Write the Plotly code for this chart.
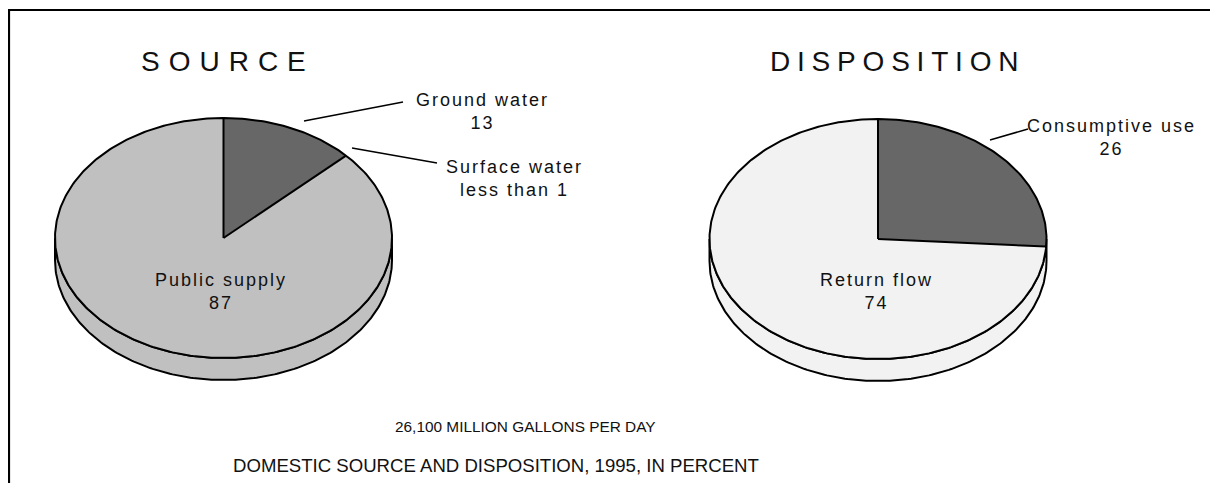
import numpy as np
import plotly.graph_objects as go

# ---------------- data ----------------
source_labels = ["Ground water", "Surface water", "Public supply"]
source_values = [13, 0.3, 87]
source_value_text = ["13", "less than 1", "87"]
disp_labels = ["Consumptive use", "Return flow"]
disp_values = [26, 74]
disp_value_text = ["26", "74"]
total_text = "26,100 MILLION GALLONS PER DAY"
chart_title = "DOMESTIC SOURCE AND DISPOSITION, 1995, IN PERCENT"

# ---------------- style ----------------
W, H = 1218, 483
OFF = 8  # page body margin of the browser
FONT = "Liberation Sans, Arial, sans-serif"
source_colors = ["#676767", "#C0C0C0", "#C0C0C0"]
disp_colors = ["#676767", "#F2F2F2"]
RX, RY, DEPTH = 168.5, 120, 22
SRC_C = (223.5, 238)
DSP_C = (878, 239)

fig = go.Figure()


def pt(c, t):
    return c[0] + RX * np.sin(t), c[1] - RY * np.cos(t)


def add_pie(center, values, colors):
    vals = np.asarray(values, dtype=float)
    frac = vals / vals.sum()
    edges = np.concatenate([[0], np.cumsum(frac)]) * 2 * np.pi
    # side wall colour = colour of slice at the front (6 o'clock)
    front = int(np.searchsorted(edges, np.pi) - 1)
    t = np.linspace(np.pi / 2, 3 * np.pi / 2, 200)
    tx, ty = pt(center, t)
    bx, by = tx[::-1], ty[::-1] + DEPTH
    sx = np.concatenate([tx, bx, [tx[0]]])
    sy = np.concatenate([ty, by, [ty[0]]])
    fig.add_trace(go.Scatter(x=sx, y=sy, mode="lines", fill="toself",
                             fillcolor=colors[front],
                             line=dict(color="black", width=2),
                             hoverinfo="skip", showlegend=False))
    # slices
    for i in range(len(vals)):
        tt = np.linspace(edges[i], edges[i + 1], max(3, int(400 * frac[i])))
        ax, ay = pt(center, tt)
        xs = np.concatenate([[center[0]], ax, [center[0]]])
        ys = np.concatenate([[center[1]], ay, [center[1]]])
        fig.add_trace(go.Scatter(x=xs, y=ys, mode="lines", fill="toself",
                                 fillcolor=colors[i],
                                 line=dict(color=colors[i], width=0.5),
                                 hoverinfo="skip", showlegend=False))
    # outline of top ellipse
    ta = np.linspace(0, 2 * np.pi, 400)
    ox, oy = pt(center, ta)
    fig.add_trace(go.Scatter(x=ox, y=oy, mode="lines",
                             line=dict(color="black", width=2),
                             hoverinfo="skip", showlegend=False))
    # radial boundaries between differently coloured slices
    n = len(vals)
    rx_, ry_ = [], []
    for i in range(n):
        prev = (i - 1) % n
        if colors[i] != colors[prev]:
            ex, ey = pt(center, edges[i])
            rx_ += [center[0], ex, None]
            ry_ += [center[1], ey, None]
    fig.add_trace(go.Scatter(x=rx_, y=ry_, mode="lines",
                             line=dict(color="black", width=2),
                             hoverinfo="skip", showlegend=False))


add_pie(SRC_C, source_values, source_colors)
add_pie(DSP_C, disp_values, disp_colors)


def ann(x, y, text, size=18, spacing=2.0):
    fig.add_annotation(x=x, y=y, xref="x", yref="y", showarrow=False,
                       text=f'<span style="letter-spacing:{spacing}px">{text}</span>',
                       font=dict(family=FONT, size=size, color="#111111"),
                       xanchor="center", yanchor="middle", align="center")


# titles
ann(227.5, 61, "SOURCE", size=28, spacing=9)
ann(897.5, 61, "DISPOSITION", size=28, spacing=6.8)

# slice labels
ann(482, 111, f"{source_labels[0]}<br>{source_value_text[0]}")
ann(514, 178, f"{source_labels[1]}<br>{source_value_text[1]}")
ann(221, 291, f"{source_labels[2]}<br>{source_value_text[2]}")
ann(1111, 137, f"{disp_labels[0]}<br>{disp_value_text[0]}")
ann(876, 291, f"{disp_labels[1]}<br>{disp_value_text[1]}")

# bottom texts
ann(525, 426, total_text, size=15.4, spacing=0)
ann(496, 465, chart_title, size=18.6, spacing=0)

# leader lines
for (x0, y0, x1, y1) in [(304, 121, 403, 102), (352, 148, 437, 163), (990, 140, 1028, 129)]:
    fig.add_shape(type="line", x0=x0, y0=y0, x1=x1, y1=y1, xref="x", yref="y",
                  line=dict(color="black", width=1.5))

# frame
fig.add_shape(type="path", path="M 9 520 L 9 10 L 1240 10", xref="x", yref="y",
              line=dict(color="black", width=2.2))

fig.update_layout(
    width=W, height=H,
    margin=dict(l=0, r=0, t=0, b=0),
    paper_bgcolor="white", plot_bgcolor="white",
    xaxis=dict(range=[OFF, W + OFF], visible=False, fixedrange=True),
    yaxis=dict(range=[H + OFF, OFF], visible=False, fixedrange=True),
    showlegend=False,
)

fig.write_html("out.html")
